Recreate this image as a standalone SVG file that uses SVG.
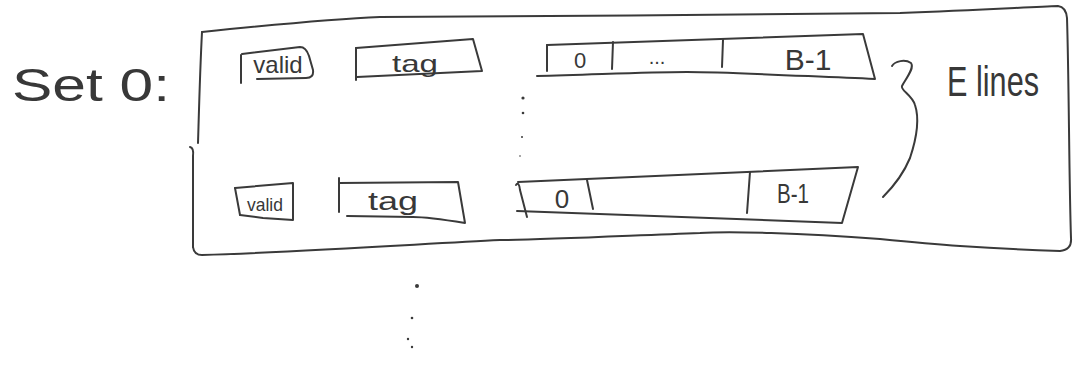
<svg xmlns="http://www.w3.org/2000/svg" width="1079" height="368" viewBox="0 0 1079 368">
<style>
.s{fill:none;stroke:#3a3a3a;stroke-width:2;stroke-linecap:round;stroke-linejoin:round}
.t{fill:#383838;font-family:"Liberation Sans","DejaVu Sans",sans-serif;text-anchor:middle}
.d{fill:#3a3a3a}
</style>
<rect width="1079" height="368" fill="#ffffff"/>
<g id="set-label">
<text class="t" x="91" y="101" font-size="46" textLength="158" lengthAdjust="spacingAndGlyphs">Set 0:</text>
</g>
<g id="set-frame">
<path class="s" d="M202,32 C260,26 330,19 380,17 C500,16 800,15 900,13 C980,10 1030,7 1058,6 Q1066,7 1067,18 C1069,80 1069,180 1071,238 Q1072,250 1060,251 C1030,250 990,248 960,246 C930,244 910,242 880,239 C800,233 730,231 700,233 C620,236 540,240 500,240 C420,244 300,252 202,255 Q194,255 193,247"/>
<path class="s" d="M202,32 C200,70 199,110 198,143"/>
<path class="s" d="M190,147 Q194,148 193,156 L193,247"/>
</g>
<g id="valid-1">
<path class="s" d="M241,55 L241,83"/>
<path class="s" d="M242,54 L300,47 Q306,47 309,56 L313,70 Q314,78 306,78 L257,79"/>
<text class="t" x="278" y="73" font-size="24">valid</text>
</g>
<g id="tag-1">
<path class="s" d="M356,48 L356,80"/>
<path class="s" d="M356,48 L473,39 L482,71 L357,77"/>
<text class="t" x="415" y="72" font-size="24" textLength="46" lengthAdjust="spacingAndGlyphs">tag</text>
</g>
<g id="line-1">
<path class="s" d="M547,45 L547,71"/>
<path class="s" d="M547,45 L863,34 L875,79 C800,76 730,72 687,72 C640,72 590,75 537,76"/>
<path class="s" d="M613,42 L612,69"/>
<path class="s" d="M723,40 L722,67"/>
<text class="t" x="580" y="68" font-size="22">0</text>
<text class="t" x="657" y="64" font-size="20">...</text>
<text class="t" x="808" y="70" font-size="30">B-1</text>
</g>
<g id="dots-lines">
<circle class="d" cx="523" cy="98" r="1.6"/>
<circle class="d" cx="523" cy="113" r="1.3"/>
<circle class="d" cx="522" cy="137" r="1"/>
<circle class="d" cx="520" cy="156" r="0.8"/>
</g>
<g id="valid-2">
<path class="s" d="M235,188 L240,215"/>
<path class="s" d="M235,188 L293,183 L293,220 L263,218 L240,215"/>
<text class="t" x="265" y="211" font-size="19" textLength="36" lengthAdjust="spacingAndGlyphs">valid</text>
</g>
<g id="tag-2">
<path class="s" d="M339,178 L339,212"/>
<path class="s" d="M339,183 L458,182 L465,223 C440,219 420,217 413,217 L347,216"/>
<text class="t" x="393" y="210" font-size="26" textLength="50" lengthAdjust="spacingAndGlyphs">tag</text>
</g>
<g id="line-2">
<path class="s" d="M516,185 Q519,181 520,190 L527,217"/>
<path class="s" d="M518,182 L858,167 L842,223 L517,211"/>
<path class="s" d="M587,180 L593,209"/>
<path class="s" d="M750,172 L747,213"/>
<text class="t" x="562" y="208" font-size="26">0</text>
<text class="t" x="793" y="203" font-size="27" textLength="32" lengthAdjust="spacingAndGlyphs">B-1</text>
</g>
<g id="brace">
<path class="s" d="M892,66 C895,61 905,59 911,63 C915,68 905,80 902,86 C900,90 912,95 915,105 C920,120 916,140 910,158 C903,175 892,188 883,197"/>
</g>
<g id="e-lines-label">
<text class="t" x="993" y="96" font-size="42" textLength="92" lengthAdjust="spacingAndGlyphs">E lines</text>
</g>
<g id="dots-sets">
<circle class="d" cx="417" cy="286" r="2"/>
<circle class="d" cx="412" cy="318" r="1.3"/>
<circle class="d" cx="408" cy="339" r="1.2"/>
<circle class="d" cx="412" cy="347" r="1.2"/>
</g>
<g id="connectors"></g>
</svg>
